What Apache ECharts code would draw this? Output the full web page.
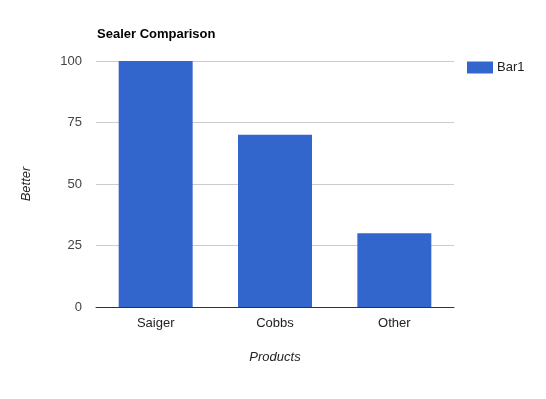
<!DOCTYPE html>
<html><head><meta charset="utf-8">
<script src="https://cdn.jsdelivr.net/npm/echarts@6/dist/echarts.min.js"></script>
<style>html,body{margin:0;padding:0;background:#fff}#c{width:546px;height:399px}</style>
</head><body><div id="c"></div>
<script>
const categories = ['Saiger', 'Cobbs', 'Other'];
const bar1Values = [100, 70, 30];
const yTicks = [0, 25, 50, 75, 100];

const chart = echarts.init(document.getElementById('c'), null, {renderer: 'canvas'});
chart.setOption({
  animation: false,
  textStyle: {fontFamily: 'Liberation Sans, Arial, sans-serif'},
  title: {
    text: 'Sealer Comparison', left: 92, top: 23,
    textStyle: {fontSize: 13, fontWeight: 'bold', color: '#000', fontFamily: 'Liberation Sans, Arial, sans-serif'}
  },
  legend: {
    data: ['Bar1'], orient: 'vertical', left: 462, top: 56,
    itemWidth: 26, itemHeight: 12, itemGap: 6, icon: 'rect',
    textStyle: {fontSize: 13, color: '#222', padding: [0, 0, 0, -1]}
  },
  grid: {left: 96, right: 92, top: 61, bottom: 92, containLabel: false},
  xAxis: {
    type: 'category', data: categories,
    name: 'Products', nameLocation: 'middle', nameGap: 44,
    nameTextStyle: {fontStyle: 'italic', fontSize: 13, color: '#222'},
    axisLine: {lineStyle: {color: '#333', width: 1}},
    axisTick: {show: false},
    axisLabel: {fontSize: 13, color: '#222', margin: 10}
  },
  yAxis: {
    type: 'value', min: yTicks[0], max: yTicks[yTicks.length - 1], interval: 25,
    name: 'Better', nameLocation: 'middle', nameGap: 63,
    nameTextStyle: {fontStyle: 'italic', fontSize: 13, color: '#222'},
    axisLine: {show: false}, axisTick: {show: false},
    axisLabel: {fontSize: 13, color: '#444', margin: 14},
    splitLine: {lineStyle: {color: '#cccccc', width: 1}}
  },
  series: [{
    name: 'Bar1', type: 'bar', data: bar1Values, barWidth: '62%',
    itemStyle: {color: '#3366cc'}
  }]
});
</script></body></html>
